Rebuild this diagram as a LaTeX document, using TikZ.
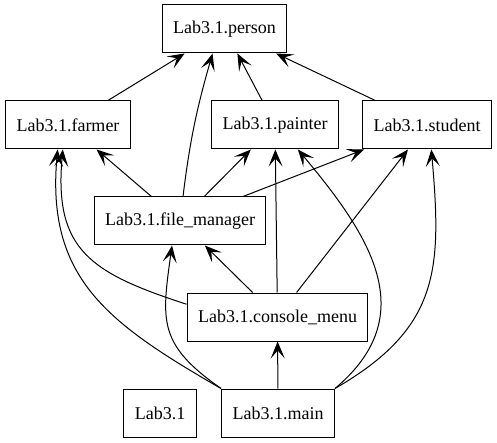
\documentclass[tikz,border=0pt]{standalone}
\usepackage{fontspec}
\setmainfont{Liberation Serif}
\newfontfamily\modfont{Liberation Serif}
\usetikzlibrary{arrows.meta}
\tikzset{
  modbox/.style={draw, line width=1pt, rectangle, inner xsep=11pt, inner ysep=0pt,
    minimum height=48pt, font=\modfont\fontsize{18}{20}\selectfont},
  dep/.style={line width=1pt, -{Stealth[length=17pt, width=14pt, inset=8pt]}},
}
\begin{document}
\begin{tikzpicture}[x=1pt, y=1pt]
    \useasboundingbox (0,0) rectangle (497,-443);
    \node[modbox] (person) at (224.5,-29) {Lab3.1.person};
    \node[modbox] (farmer) at (68,-125) {Lab3.1.farmer};
    \node[modbox] (painter) at (275,-125) {Lab3.1.painter};
    \node[modbox] (student) at (427,-125) {Lab3.1.student};
    \node[modbox] (fm) at (180,-221) {Lab3.1.file\_manager};
    \node[modbox] (cm) at (277.5,-317) {Lab3.1.console\_menu};
    \node[modbox] (lab) at (160,-413) {Lab3.1};
    \node[modbox] (main) at (278,-413) {Lab3.1.main};
    % up to person
    \draw[dep] (farmer) -- (person);
    \draw[dep] (fm.83) to[out=83, in=-106] (person.-116);
    \draw[dep] (painter) -- (person);
    \draw[dep] (student) -- (person);
    % from file_manager
    \draw[dep] (fm) -- (farmer);
    \draw[dep] (fm) -- (painter);
    \draw[dep] (fm) -- (student);
    % from console_menu
    \draw[dep] (cm.172) to[out=162, in=-95, looseness=1.3] (farmer.-102);
    \draw[dep] (cm) -- (fm);
    \draw[dep] (cm) -- (painter);
    \draw[dep] (cm) -- (student);
    % from main
    \draw[dep] (main.north west) to[out=150, in=-95, looseness=1.15] (farmer.-113);
    \draw[dep] (main.north west) to[out=145, in=-98, looseness=1.3] (fm.-108);
    \draw[dep] (main) -- (cm);
    \draw[dep] (main.north east) to[out=40, in=-50, looseness=1.2] (painter.-47);
    \draw[dep] (main.north east) to[out=30, in=-85, looseness=1.2] (student.-80);
\end{tikzpicture}
\end{document}
